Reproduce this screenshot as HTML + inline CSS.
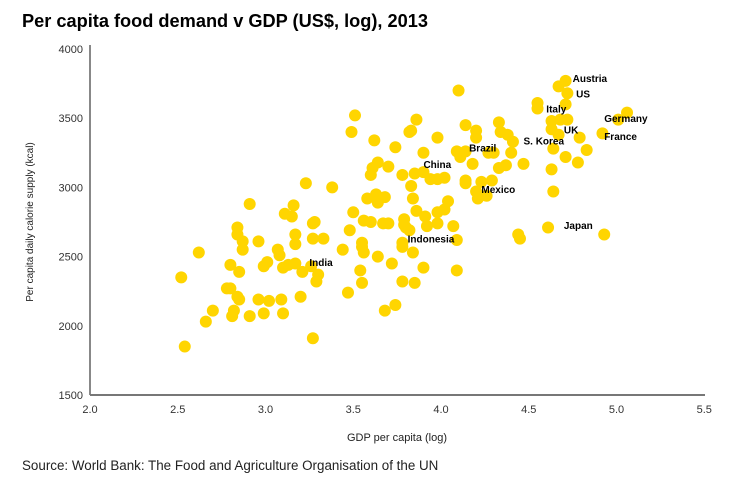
<!DOCTYPE html>
<html><head><meta charset="utf-8"><style>
body{margin:0;background:#fff;width:732px;height:483px;overflow:hidden;font-family:"Liberation Sans",sans-serif}
</style></head><body>
<svg width="732" height="483">
<text x="22" y="27" font-size="18.2" font-weight="bold" fill="#000">Per capita food demand v GDP (US$, log), 2013</text>
<g id="grid"></g>
<g id="pts"></g>
<g id="lbls"></g>
<text x="397" y="441" font-size="11" text-anchor="middle" fill="#222">GDP per capita (log)</text>
<text transform="translate(33,222) rotate(-90)" font-size="10" text-anchor="middle" fill="#222">Per capita daily calorie supply (kcal)</text>
<text x="22" y="470" font-size="13.4" fill="#222">Source: World Bank: The Food and Agriculture Organisation of the UN</text>
</svg>
<script>
const xTicks=[2.0,2.5,3.0,3.5,4.0,4.5,5.0,5.5];
const yTicks=[1500,2000,2500,3000,3500,4000];
const gdp=[3.51,3.49,3.62,3.74,3.82,3.64,3.61,3.60,3.70,3.78,3.23,3.38,2.91,3.58,3.63,3.64,3.68,3.50,3.16,3.11,3.15,3.56,3.60,3.67,3.70,3.79,3.80,2.84,2.84,2.87,2.87,2.96,3.28,3.27,3.17,3.17,3.27,3.33,3.48,3.44,3.55,3.55,3.56,3.78,3.78,2.62,3.07,3.08,3.64,3.72,2.80,2.85,2.99,3.01,3.10,3.13,3.17,3.21,3.26,3.30,3.29,2.52,3.54,3.55,3.78,2.78,2.80,2.84,2.85,2.96,3.02,3.09,3.20,3.47,2.70,2.82,2.81,2.91,2.99,3.10,2.66,3.68,3.74,2.54,3.27,
4.71,4.67,4.72,4.55,4.55,4.71,4.10,5.06,5.01,4.63,4.68,4.72,4.63,4.67,4.79,4.92,4.64,4.71,4.83,4.78,4.63,4.64,4.61,4.93,4.44,4.45,3.86,3.83,3.98,4.14,4.20,4.20,4.33,4.34,4.38,4.41,4.09,4.11,4.14,4.27,4.30,4.40,3.90,4.18,4.33,4.37,4.47,3.85,3.90,3.94,3.98,4.02,3.83,4.14,4.14,4.23,4.29,4.20,4.21,4.26,3.84,4.04,3.86,3.91,3.98,4.02,3.79,3.82,3.92,3.98,4.07,4.09,3.84,3.90,4.09,3.85];
const kcal=[3520,3400,3340,3290,3400,3180,3140,3090,3150,3090,3030,3000,2880,2920,2950,2890,2930,2820,2870,2810,2790,2760,2750,2740,2740,2770,2710,2710,2660,2610,2550,2610,2750,2740,2660,2590,2630,2630,2690,2550,2600,2570,2530,2600,2570,2530,2550,2510,2500,2450,2440,2390,2430,2460,2420,2440,2450,2390,2430,2370,2320,2350,2400,2310,2320,2270,2270,2210,2190,2190,2180,2190,2210,2240,2110,2110,2070,2070,2090,2090,2030,2110,2150,1850,1910,
3770,3730,3680,3610,3570,3600,3700,3540,3490,3480,3490,3490,3420,3380,3360,3390,3280,3220,3270,3180,3130,2970,2710,2660,2660,2630,3490,3410,3360,3450,3410,3360,3470,3400,3380,3330,3260,3220,3260,3250,3250,3250,3250,3170,3140,3160,3170,3100,3110,3060,3060,3070,3010,3050,3030,3040,3050,2970,2920,2940,2920,2900,2830,2790,2820,2840,2730,2690,2720,2740,2720,2620,2530,2420,2400,2310];
const labelNames=["Austria","US","Italy","Germany","UK","France","S. Korea","Brazil","China","Mexico","Japan","Indonesia","India"];
const labelX=[4.75,4.77,4.60,4.93,4.70,4.93,4.47,4.16,3.90,4.23,4.70,3.81,3.25];
const labelY=[3790,3680,3570,3500,3420,3370,3340,3290,3170,2990,2730,2630,2460];
const NS='http://www.w3.org/2000/svg';
const X=v=>90+(v-2)*175.5, Y=v=>395-(v-1500)*69.2/500;
function mk(t,a,p){const e=document.createElementNS(NS,t);for(const k in a)e.setAttribute(k,a[k]);p.appendChild(e);return e;}
const g=document.getElementById('grid');
const ya=mk('line',{x1:90,y1:45,x2:90,y2:395,stroke:'#111','stroke-width':1},g);


const xa=mk('line',{x1:90,y1:395,x2:705,y2:395,stroke:'#777','stroke-width':2},g);


xTicks.forEach(t=>{const e=mk('text',{x:X(t),y:413,'font-size':11,'text-anchor':'middle',fill:'#333'},g);e.textContent=t.toFixed(1);

});
yTicks.forEach(t=>{const e=mk('text',{x:83,y:Y(t)+4,'font-size':11,'text-anchor':'end',fill:'#333'},g);e.textContent=t;

});
const p=document.getElementById('pts');
gdp.forEach((v,i)=>{const c=mk('circle',{cx:X(v),cy:Y(kcal[i]),r:6,fill:'#FFD500'},p);

});
const l=document.getElementById('lbls');
labelNames.forEach((n,i)=>{const e=mk('text',{x:X(labelX[i]),y:Y(labelY[i])+4,'font-size':10,'font-weight':'bold',fill:'#000'},l);e.textContent=n;

});
</script>
</body></html>
